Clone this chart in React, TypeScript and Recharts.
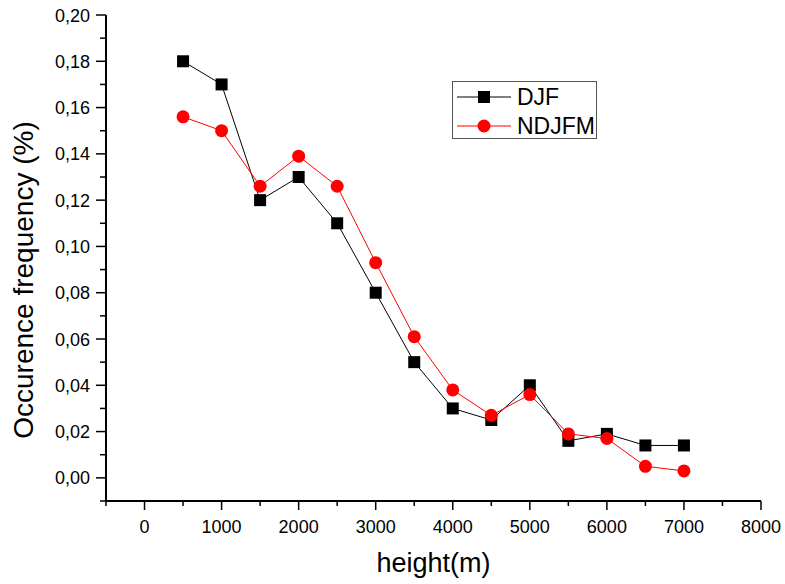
import React from "react";
import { LineChart, Line, XAxis, YAxis } from "recharts";

const heights = [500, 1000, 1500, 2000, 2500, 3000, 3500, 4000, 4500, 5000, 5500, 6000, 6500, 7000];
const djf = [0.18, 0.17, 0.12, 0.13, 0.11, 0.08, 0.05, 0.03, 0.025, 0.04, 0.016, 0.019, 0.014, 0.014];
const ndjfm = [0.156, 0.15, 0.126, 0.139, 0.126, 0.093, 0.061, 0.038, 0.027, 0.036, 0.019, 0.017, 0.005, 0.003];

const xTicks = [-500, 0, 500, 1000, 1500, 2000, 2500, 3000, 3500, 4000, 4500, 5000, 5500, 6000, 6500, 7000, 7500, 8000];
const yTicks = [-0.01, 0, 0.01, 0.02, 0.03, 0.04, 0.05, 0.06, 0.07, 0.08, 0.09, 0.1, 0.11, 0.12, 0.13, 0.14, 0.15, 0.16, 0.17, 0.18, 0.19, 0.2];

const data = heights.map((h, i) => ({ height: h, djf: djf[i], ndjfm: ndjfm[i] }));

const FONT = '"Liberation Sans", Arial, sans-serif';

const XTick = (props: any) => {
  const { x, y, payload } = props;
  const v = payload.value;
  const major = v >= 0 && v % 1000 === 0;
  return (
    <g>
      <line x1={x} x2={x} y1={y} y2={y + (major ? 9 : 5)} stroke="#000" strokeWidth={1.5} />
      {major && (
        <text x={x} y={y + 32} textAnchor="middle" fontSize={18} fontFamily={FONT} fill="#000">
          {v}
        </text>
      )}
    </g>
  );
};

const YTick = (props: any) => {
  const { x, y, payload } = props;
  const v = payload.value;
  const n = Math.round(v * 100);
  const major = n >= 0 && n % 2 === 0;
  return (
    <g>
      <line x1={x - (major ? 10 : 6)} x2={x} y1={y} y2={y} stroke="#000" strokeWidth={1.5} />
      {major && (
        <text x={x - 16} y={y + 6.5} textAnchor="end" fontSize={18} fontFamily={FONT} fill="#000">
          {(n / 100).toFixed(2).replace(".", ",")}
        </text>
      )}
    </g>
  );
};

const SquareDot = (p: any) => (
  <rect key={p.key} x={p.cx - 6} y={p.cy - 6} width={12} height={12} fill="#000" />
);

const CircleDot = (p: any) => (
  <circle key={p.key} cx={p.cx} cy={p.cy} r={6.5} fill="#ff0000" />
);

const LegendBox = () => (
  <div
    style={{
      position: "absolute",
      left: 452,
      top: 81,
      width: 145,
      height: 58,
      border: "1px solid #555",
      background: "#fff",
      fontFamily: FONT,
      fontSize: 23,
      boxSizing: "border-box",
    }}
  >
    <svg width={60} height={57} style={{ position: "absolute", left: 0, top: 0 }}>
      <line x1={4} x2={58} y1={15} y2={15} stroke="#000" strokeWidth={1} />
      <rect x={25} y={9} width={12} height={12} fill="#000" />
      <line x1={4} x2={58} y1={44} y2={44} stroke="#ff0000" strokeWidth={1} />
      <circle cx={31} cy={44} r={6.5} fill="#ff0000" />
    </svg>
    <div style={{ position: "absolute", left: 64, top: 1, lineHeight: "28px" }}>DJF</div>
    <div style={{ position: "absolute", left: 64, top: 30, lineHeight: "28px" }}>NDJFM</div>
  </div>
);

export default function App() {
  return (
    <div style={{ position: "absolute", left: 0, top: 0, width: 785, height: 584, background: "#fff" }}>
      <LineChart width={785} height={584} data={data} margin={{ top: 15, right: 24, bottom: 0, left: 0 }}>
        <XAxis
          dataKey="height"
          type="number"
          domain={[-500, 8000]}
          ticks={xTicks}
          interval={0}
          allowDataOverflow
          tickLine={false}
          tickSize={0}
          tickMargin={0}
          height={83}
          axisLine={{ stroke: "#000", strokeWidth: 2 }}
          tick={(p: any) => <XTick {...p} />}
          label={{
            content: (lp: any) => {
              const vb = lp.viewBox;
              return (
                <text x={vb.x + vb.width / 2} y={vb.y + 71} textAnchor="middle" fontSize={27} fontFamily={FONT} fill="#000">
                  height(m)
                </text>
              );
            },
          }}
        />
        <YAxis
          type="number"
          domain={[-0.01, 0.2]}
          ticks={yTicks}
          interval={0}
          allowDataOverflow
          tickLine={false}
          tickSize={0}
          tickMargin={0}
          width={106}
          axisLine={{ stroke: "#000", strokeWidth: 2 }}
          tick={(p: any) => <YTick {...p} />}
          label={{
            content: () => (
              <text
                x={33}
                y={280}
                transform="rotate(-90 33 280)"
                textAnchor="middle"
                fontSize={28}
                fontFamily={FONT}
                fill="#000"
              >
                Occurence frequency (%)
              </text>
            ),
          }}
        />
        <Line
          dataKey="djf"
          stroke="#000"
          strokeWidth={1}
          dot={SquareDot}
          isAnimationActive={false}
        />
        <Line
          dataKey="ndjfm"
          stroke="#ff0000"
          strokeWidth={1}
          dot={CircleDot}
          isAnimationActive={false}
        />
      </LineChart>
      <LegendBox />
    </div>
  );
}
